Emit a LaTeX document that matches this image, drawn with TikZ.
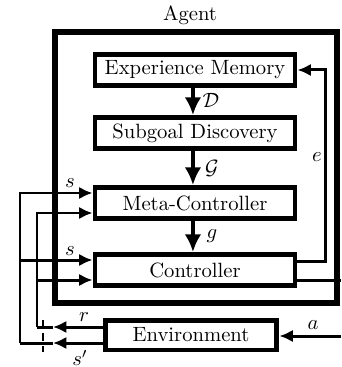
\documentclass[tikz,border=0pt]{standalone}
\usetikzlibrary{arrows.meta,calc}
\begin{document}
\begin{tikzpicture}[x=0.484pt,y=-0.484pt,
  box/.style={draw,line width=2.4pt,minimum width=96.8pt,minimum height=15pt,inner sep=0pt,fill=white},
  frame/.style={draw,line width=2.9pt,minimum width=136.5pt,minimum height=131.2pt,inner sep=0pt},
  flow/.style={line width=2.1pt,-{Latex[length=8.5pt,width=8pt]}},
  wire/.style={line width=1.45pt},
  feed/.style={wire,-{Latex[length=6.5pt,width=6pt]}},
  cut/.style={line width=1pt,dash pattern=on 3.8pt off 2.4pt},
  lbl/.style={inner sep=0pt}]
\useasboundingbox (0,0) rectangle (341,367);

% agent frame and its title
\node[frame] (agent) at (196,167.5) {};
\node[lbl] (agentlbl) at (190,15) {Agent};

% wiring joints
\coordinate (oTop) at (20,193);
\coordinate (oCt)  at (20,260);
\coordinate (oBot) at (20,343);
\coordinate (iTop) at (37,213);
\coordinate (iCt)  at (37,280);
\coordinate (iBot) at (37,327);
\coordinate (rTip) at (53,327);
\coordinate (sTip) at (53,343);
\coordinate (eLow) at (325,261);
\coordinate (eHigh) at (325,70);
\coordinate (aOut) at (341,280);
\coordinate (aIn)  at (341,336);
\coordinate (cutTop) at (43,320);
\coordinate (cutBot) at (43,352);

% modules
\node[box] (em) at (195,70)  {Experience Memory};
\node[box] (sd) at (195,133) {Subgoal Discovery};
\node[box] (mc) at (195,203) {Meta-Controller};
\node[box] (ct) at (195,270) {Controller};
\node[box,minimum width=83.2pt,minimum height=14.5pt] (env) at (191,335) {Environment};

% internal flow
\draw[flow] ([xshift=-1pt]em.south) -- ([xshift=-1pt]sd.north);
\draw[flow] ([xshift=-1pt]sd.south) -- ([xshift=-1pt]mc.north);
\draw[flow] ([xshift=-1pt]mc.south) -- ([xshift=-1pt]ct.north);
\node[lbl] (lD) at (211,100) {$\mathcal{D}$};
\node[lbl] (lG) at (212,168) {$\mathcal{G}$};
\node[lbl] (lg) at (212,236) {$g$};

% reward loop
\draw[feed] (env.west |- iBot) -- (rTip);
\draw[wire] (rTip) -- (iBot);
\draw[feed] (iBot) -- (iTop) -- (mc.west |- iTop);
\draw[feed] (iCt) -- (ct.west |- iCt);

% state loop
\draw[feed] (env.west |- oBot) -- (sTip);
\draw[wire] (sTip) -- (oBot);
\draw[feed] (oBot) -- (oTop) -- (mc.west |- oTop);
\draw[feed] (oCt) -- (ct.west |- oCt);

\draw[cut] (cutTop) -- (cutBot);

% experience and action
\draw[feed] (ct.east |- eLow) -- (eLow) -- (eHigh) -- (em.east |- eHigh);
\draw[wire] (ct.east |- aOut) -- (aOut);
\draw[feed] (aIn) -- (env.east |- aIn);

% signal labels
\node[lbl] (ls1) at (70,183) {$s$};
\node[lbl] (ls2) at (70,251) {$s$};
\node[lbl] (lr)  at (84,317) {$r$};
\node[lbl] (lsp) at (80,358) {$s'$};
\node[lbl] (le)  at (317,157) {$e$};
\node[lbl] (la)  at (313,325) {$a$};
\end{tikzpicture}
\end{document}
